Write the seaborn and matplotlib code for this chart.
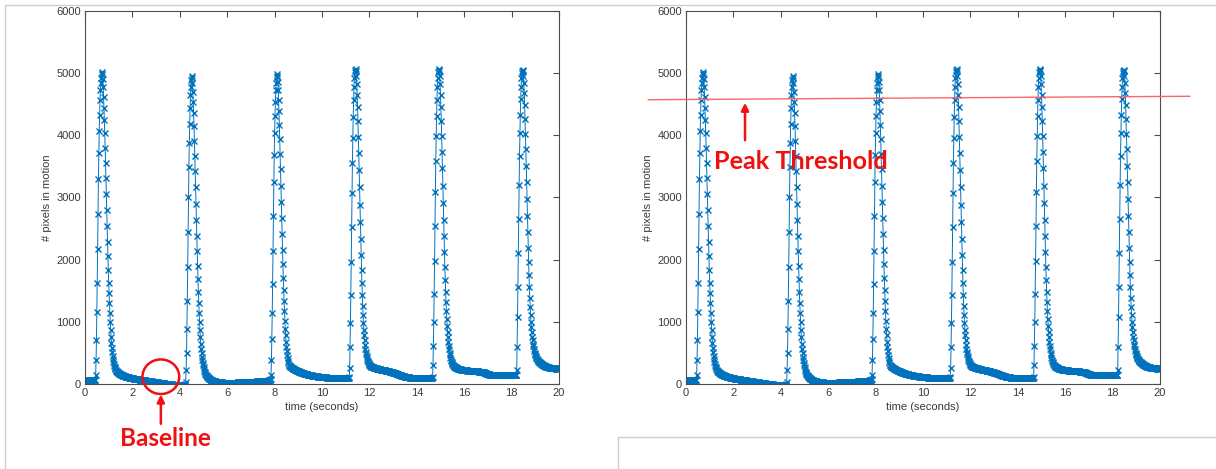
import numpy as np
import pandas as pd
import matplotlib
matplotlib.use("Agg")
import matplotlib.pyplot as plt
import seaborn as sns
from matplotlib.patches import Ellipse
from matplotlib.lines import Line2D

# ---------------- data (60 samples per second) ----------------
FPS = 60

baseline_start = [62, 60, 61, 59, 60, 62, 61, 60, 59, 60,
                  61, 62, 60, 59, 61, 60, 60, 62, 61, 59,
                  60, 61, 60, 59, 61, 62, 63]

beat_1 = [150, 390, 710, 1160, 1630, 2170, 2740, 3290, 3710, 4060,
          4330, 4570, 4730, 4840, 4920, 4985,
          5020,
          4985, 4900, 4780, 4620, 4440, 4240, 4030, 3800, 3560, 3310,
          3060, 2800, 2540, 2290, 2050, 1830, 1630, 1460, 1300, 1140,
          990, 870, 760, 660, 580, 510, 450, 400, 360, 325,
          295, 272, 252, 237, 225, 215, 206, 198, 191, 185,
          180, 175, 170, 165, 161, 157, 153, 150, 147, 144,
          141, 138, 135, 133, 130, 128, 126, 124, 122, 120,
          118, 116, 114, 112, 110, 108, 107, 105, 104, 102,
          100, 99, 97, 96, 95, 93, 92, 91, 90, 88,
          87, 86, 85, 84, 82, 81, 80, 79, 78, 77,
          76, 75, 74, 73, 72, 71, 70, 69, 68, 67,
          66, 65, 64, 63, 62, 61, 60, 59, 58, 57,
          56, 55, 54, 53, 52, 51, 50, 49, 48, 47,
          46, 45, 44, 43, 42, 41, 40, 39, 38, 37,
          36, 35, 34, 33, 32, 31, 30, 29, 28, 27,
          26, 25, 24, 23, 22, 21, 20, 19, 18, 17,
          16, 15, 14, 13, 12, 11, 10, 9, 8, 7,
          6, 5, 4, 3, 2, 1, 0, -1, -2, -3,
          -4, -5, -6, -6, -7, -8, -8, -9, -10, -10,
          -11, -11, -12, -12, -13, -13, -14, -14, -15, -15,
          -15, -16, -16, -16, -17, -17, -17, -18, -18, -18,
          -18, -19, -19, -19, -19, -20, -20, -20, -20, -20]

beat_2 = [-5, 37, 225, 503, 879, 1339, 1880, 2450, 3000, 3480,
          3870, 4180, 4440, 4640, 4780, 4880,
          4950,
          4915, 4830, 4700, 4540, 4350, 4140, 3910, 3670, 3420, 3160,
          2900, 2640, 2380, 2130, 1900, 1680, 1480, 1300, 1140, 990,
          860, 750, 650, 570, 500, 440, 390, 345, 305, 270,
          240, 215, 195, 178, 164, 152, 141, 131, 122, 114,
          107, 100, 94, 89, 84, 79, 75, 71, 67, 64,
          61, 58, 55, 53, 51, 49, 47, 45, 43, 42,
          40, 39, 38, 36, 35, 34, 33, 32, 31, 30,
          29, 28, 28, 27, 26, 25, 25, 24, 24, 23,
          23, 22, 22, 21, 21, 21, 20, 20, 20, 20,
          19, 19, 19, 19, 19, 19, 20, 20, 20, 20,
          20, 20, 21, 21, 21, 21, 22, 22, 22, 22,
          23, 23, 23, 24, 24, 24, 25, 25, 25, 26,
          26, 26, 27, 27, 27, 28, 28, 28, 29, 29,
          29, 30, 30, 30, 31, 31, 31, 32, 32, 32,
          33, 33, 33, 34, 34, 34, 35, 35, 35, 36,
          36, 36, 37, 37, 37, 38, 38, 38, 39, 39,
          39, 40, 40, 40, 41, 41, 41, 42, 42, 42,
          43, 43, 43, 44, 44, 44, 45, 45, 45, 46,
          46, 46, 47, 47, 47, 48, 48, 48, 49, 49,
          50, 52, 54, 56, 58, 60, 62, 63, 64]

beat_3 = [75, 145, 386, 718, 1136, 1600, 2140, 2700, 3240, 3680,
          4030, 4310, 4540, 4720, 4840, 4930,
          4980,
          4945, 4860, 4730, 4570, 4380, 4170, 3940, 3700, 3450, 3190,
          2930, 2670, 2410, 2160, 1930, 1710, 1510, 1330, 1170, 1020,
          890, 780, 680, 600, 530, 470, 420, 375, 340, 310,
          300, 292, 285, 279, 274, 269, 264, 260, 256, 252,
          248, 244, 240, 236, 233, 229, 226, 222, 219, 216,
          213, 210, 207, 204, 201, 198, 196, 193, 190, 188,
          185, 183, 180, 178, 176, 174, 172, 170, 168, 166,
          164, 162, 160, 158, 157, 155, 153, 152, 150, 149,
          147, 146, 144, 143, 141, 140, 139, 137, 136, 135,
          134, 132, 131, 130, 129, 128, 127, 126, 125, 124,
          123, 122, 121, 120, 119, 118, 117, 117, 116, 115,
          114, 113, 113, 112, 111, 110, 110, 109, 108, 108,
          107, 106, 106, 105, 105, 104, 103, 103, 102, 102,
          101, 101, 100, 100, 99, 99, 98, 98, 97, 97,
          97, 96, 96, 95, 95, 95, 94, 94, 94, 93,
          93, 93, 93, 92, 92, 92, 92, 91, 91, 91,
          91, 91, 90, 90, 90, 90, 90, 90, 90, 90,
          90, 90, 90, 90, 90, 90, 90, 90, 91, 91,
          92, 94]

beat_4 = [110, 252, 600, 976, 1431, 1960, 2520, 3070, 3560, 3960,
          4290, 4560, 4770, 4920, 5010, 5045,
          5060,
          5030, 4950, 4820, 4650, 4450, 4220, 3970, 3710, 3440, 3160,
          2880, 2600, 2330, 2070, 1830, 1620, 1430, 1260, 1110, 980,
          870, 780, 700, 630, 570, 520, 480, 445, 415, 390,
          368, 350, 335, 322, 311, 302, 295, 289, 284, 280,
          276, 273, 270, 268, 266, 264, 262, 260, 258, 256,
          254, 252, 250, 249, 247, 245, 244, 242, 241, 239,
          238, 236, 235, 233, 232, 230, 229, 227, 226, 224,
          223, 221, 220, 218, 217, 215, 214, 212, 211, 209,
          208, 206, 205, 203, 202, 200, 199, 197, 196, 194,
          192, 190, 188, 186, 184, 182, 180, 178, 176, 174,
          172, 170, 167, 165, 162, 160, 157, 155, 152, 150,
          147, 145, 142, 140, 137, 135, 133, 131, 129, 127,
          125, 123, 121, 119, 118, 116, 115, 113, 112, 111,
          110, 109, 108, 107, 106, 105, 104, 104, 103, 103,
          102, 102, 101, 101, 100, 100, 100, 99, 99, 99,
          99, 98, 98, 98, 98, 98, 97, 97, 97, 97,
          97, 97, 97, 96, 96, 96, 96, 96, 96, 96,
          96, 96, 96, 96, 96, 96, 96, 97, 97, 97,
          97, 97, 97, 98, 98, 98, 98, 99, 99, 100,
          100, 101, 102, 104]

beat_5 = [118, 305, 611, 990, 1450, 1980, 2540, 3090, 3580, 3980,
          4300, 4570, 4780, 4925, 5010, 5045,
          5060,
          5025, 4945, 4815, 4650, 4455, 4230, 3985, 3730, 3465, 3190,
          2915, 2640, 2375, 2120, 1885, 1670, 1480, 1315, 1170, 1040,
          930, 835, 750, 675, 610, 555, 505, 460, 420, 385,
          368, 350, 335, 322, 311, 302, 294, 287, 281, 276,
          271, 267, 263, 259, 256, 253, 250, 247, 245, 243,
          241, 239, 237, 235, 234, 232, 231, 229, 228, 227,
          226, 225, 224, 223, 222, 221, 220, 219, 218, 218,
          217, 216, 216, 215, 214, 214, 213, 213, 212, 212,
          211, 211, 210, 210, 209, 209, 208, 208, 207, 207,
          206, 206, 205, 205, 204, 204, 203, 202, 202, 201,
          200, 200, 199, 198, 197, 196, 195, 194, 193, 192,
          191, 189, 187, 185, 183, 180, 177, 174, 171, 168,
          165, 162, 160, 158, 156, 154, 153, 152, 151, 150,
          149, 148, 148, 147, 147, 146, 146, 145, 145, 145,
          144, 144, 144, 143, 143, 143, 143, 142, 142, 142,
          142, 142, 141, 141, 141, 141, 141, 141, 140, 140,
          140, 140, 140, 140, 140, 140, 140, 140, 140, 140,
          140, 140, 140, 140, 140, 140, 140, 141, 141, 141,
          141, 141, 141, 142, 142, 142, 142, 143, 143, 143,
          144, 144, 145, 146, 148]

beat_6 = [150, 225, 600, 1072, 1560, 2100, 2660, 3200, 3660, 4030,
          4330, 4580, 4780, 4920, 5000, 5035,
          5050,
          5025, 4950, 4830, 4670, 4480, 4260, 4020, 3770, 3510, 3240,
          2970, 2700, 2440, 2190, 1960, 1750, 1560, 1390, 1240, 1110,
          1000, 910, 830, 760, 700, 650, 605, 565, 530, 500,
          480, 462, 446, 432, 419, 407, 396, 386, 377, 369,
          361, 354, 347, 341, 335, 330, 325, 320, 315, 311,
          307, 303, 299, 296, 293, 290, 287, 284, 281, 279,
          276, 274, 272, 270, 268, 266, 265, 263, 262, 260,
          259, 258, 257, 256, 255, 254, 253, 253, 252, 251,
          251, 250, 250, 249, 249, 248, 248, 248, 247, 247,
          247, 246]

x_ticks = [0, 2, 4, 6, 8, 10, 12, 14, 16, 18, 20]
y_ticks = [0, 1000, 2000, 3000, 4000, 5000, 6000]

# threshold line end points (time, pixels) and annotation texts
threshold_t = [-1.6, 21.27]
threshold_v = [4569, 4625]
label_baseline = "Baseline"
label_threshold = "Peak Threshold"

pixels = np.array(baseline_start + beat_1 + beat_2 + beat_3 + beat_4 + beat_5 + beat_6, dtype=float)
time = np.arange(len(pixels)) / FPS
df = pd.DataFrame({"time (seconds)": time, "# pixels in motion": pixels})

# ---------------- style ----------------
sns.set_theme(style="white")
plt.rcParams["font.family"] = ["Liberation Sans", "DejaVu Sans"]

W, H = 1216, 469
fig = plt.figure(figsize=(W / 100, H / 100), dpi=100)
fig.patch.set_facecolor("white")

ax_l = fig.add_axes([85 / W, 1 - 384 / H, 474 / W, (384 - 10.7) / H])
ax_r = fig.add_axes([686 / W, 1 - 384 / H, 474 / W, (384 - 10.7) / H])

BLUE = "#0072BD"
AX_COL = "#4d4d4d"
TXT_COL = "#3a3a3a"
RED = "#f01010"

for ax in (ax_l, ax_r):
    sns.lineplot(data=df, x="time (seconds)", y="# pixels in motion", ax=ax,
                 color=BLUE, linewidth=0.7, marker="x", markersize=4.0,
                 markeredgewidth=1.0, markeredgecolor=BLUE,
                 estimator=None, errorbar=None, sort=False)
    ax.set_xlim(0, 20)
    ax.set_ylim(0, 6000)
    ax.set_xticks(x_ticks)
    ax.set_yticks(y_ticks)
    ax.set_xticklabels([str(v) for v in x_ticks])
    ax.set_yticklabels([str(v) for v in y_ticks])
    ax.tick_params(direction="in", top=True, right=True, length=4, width=0.8,
                   colors=AX_COL, labelcolor=TXT_COL, labelsize=8, pad=3)
    for s in ax.spines.values():
        s.set_visible(True)
        s.set_color(AX_COL)
        s.set_linewidth(0.8)
    ax.set_xlabel("time (seconds)", fontsize=8, color=TXT_COL, labelpad=3)
    ax.set_ylabel("# pixels in motion", fontsize=8, color=TXT_COL, labelpad=3)
    ax.set_facecolor("white")

# ---- left panel annotation: baseline circle ----
circ = Ellipse((3.2, 117), width=1.55, height=556, fill=False, edgecolor=RED,
               linewidth=1.8, clip_on=False, zorder=5)
ax_l.add_patch(circ)
ax_l.annotate("", xy=(3.2, -170), xytext=(3.2, -640), xycoords="data",
              arrowprops=dict(arrowstyle="-|>", color=RED, lw=1.8, mutation_scale=11,
                              shrinkA=0, shrinkB=0),
              annotation_clip=False)
ax_l.text(3.38, -870, label_baseline, color=RED, fontsize=17.5, fontweight="bold",
          family=["Lato", "DejaVu Sans"], ha="center", va="center", clip_on=False)

# ---- right panel annotation: threshold ----
ax_r.add_line(Line2D(threshold_t, threshold_v, color="#ff6464", linewidth=1.0,
                     clip_on=False, zorder=5))
ax_r.annotate("", xy=(2.49, 4520), xytext=(2.49, 3920), xycoords="data",
              arrowprops=dict(arrowstyle="-|>", color=RED, lw=1.8, mutation_scale=11,
                              shrinkA=0, shrinkB=0),
              annotation_clip=False)
ax_r.text(4.85, 3569, label_threshold, color=RED, fontsize=18.2, fontweight="bold",
          family=["Lato", "DejaVu Sans"], ha="center", va="center", clip_on=False)

# ---- slide frame lines ----
FR = "#cfcfcf"
fig.add_artist(Line2D([5 / W, 1], [1 - 5 / H, 1 - 5 / H], color=FR, lw=1.0))
fig.add_artist(Line2D([5 / W, 5 / W], [0, 1 - 5 / H], color=FR, lw=1.0))
fig.add_artist(Line2D([618 / W, 1], [1 - 437 / H, 1 - 437 / H], color=FR, lw=1.0))
fig.add_artist(Line2D([618 / W, 618 / W], [0, 1 - 437 / H], color=FR, lw=1.0))

fig.savefig("out.png", dpi=100, facecolor="white")
